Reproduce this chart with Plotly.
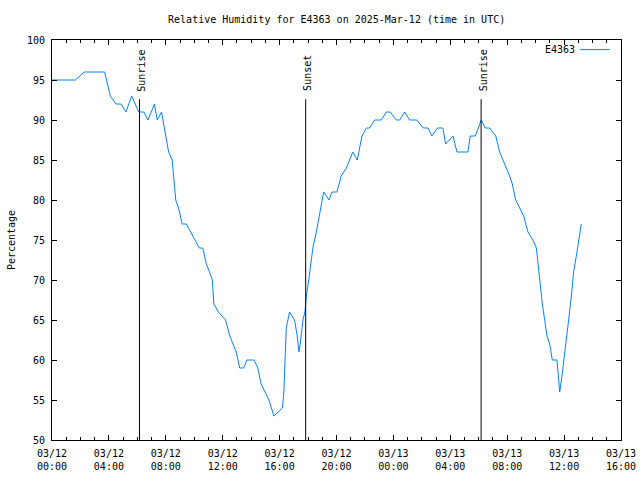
import pandas as pd
import plotly.graph_objects as go

# Hours since 2025-03-12 00:00 UTC and relative humidity (%)
hours = [0.0, 1.65, 2.25, 3.7, 4.1, 4.5, 4.85, 5.2, 5.6, 6.1, 6.45, 6.75, 7.2, 7.4, 7.7,
         7.9, 8.2, 8.45, 8.57, 8.7, 8.9, 9.15, 9.45, 9.75, 10.05, 10.35, 10.6, 10.85,
         11.07, 11.27, 11.38, 11.7, 12.2, 12.5, 12.95, 13.2, 13.47, 13.7, 14.2, 14.47,
         14.7, 15.0, 15.25, 15.6, 16.2, 16.3, 16.38, 16.47, 16.7, 17.05, 17.24, 17.36,
         17.45, 17.64, 17.78, 17.88, 18.05, 18.34, 18.58, 18.77, 19.1, 19.47, 19.68,
         20.03, 20.33, 20.69, 21.15, 21.46, 21.79, 22.1, 22.33, 22.68, 23.15, 23.5,
         23.78, 24.2, 24.44, 24.79, 25.14, 25.65, 26.1, 26.43, 26.7, 27.09, 27.48,
         27.67, 28.19, 28.47, 29.24, 29.4, 29.76, 30.18, 30.46, 30.77, 31.2, 31.47,
         31.7, 31.98, 32.17, 32.36, 32.6, 32.88, 33.16, 33.46, 33.81, 34.05, 34.2,
         34.35, 34.47, 34.63, 34.8, 34.99, 35.17, 35.5, 35.62, 35.69, 35.85, 35.99,
         36.16, 36.32, 36.51, 36.67, 36.86, 37.03, 37.21]
humidity = [95, 95, 96, 96, 93, 92, 92, 91, 93, 91, 91, 90, 92, 90, 91,
            89, 86, 85, 82, 80, 79, 77, 77, 76, 75, 74, 74, 72,
            71, 70, 67, 66, 65, 63, 61, 59, 59, 60, 60, 59,
            57, 56, 55, 53, 54, 56, 60, 64, 66, 65, 63, 61,
            62, 65, 66, 68, 70, 74, 76, 78, 81, 80, 81,
            81, 83, 84, 86, 85, 88, 89, 89, 90, 90, 91,
            91, 90, 90, 91, 90, 90, 89, 89, 88, 89, 89,
            87, 88, 86, 86, 88, 88, 90, 89, 89, 88, 86,
            85, 84, 83, 82, 80, 79, 78, 76, 75, 74, 71,
            69, 67, 65, 63, 62, 60, 60, 58, 56, 58, 60,
            62, 65, 68, 71, 73, 75, 77]

event_times = ["2025-03-12 06:09", "2025-03-12 17:50", "2025-03-13 06:10"]
event_labels = ["Sunrise", "Sunset", "Sunrise"]
event_top = 92.6

series_name = "E4363"
start = pd.Timestamp("2025-03-12 00:00")
times = [start + pd.Timedelta(hours=h) for h in hours]

font = dict(family="DejaVu Sans Mono", size=10, color="black")
blue = "#0a80f5"

fig = go.Figure()
fig.add_trace(go.Scatter(x=times, y=humidity, mode="lines", name=series_name,
                         line=dict(color=blue, width=1), showlegend=False))

for t, lab in zip(event_times, event_labels):
    fig.add_shape(type="line", xref="x", yref="y", x0=t, x1=t, y0=50, y1=event_top,
                  line=dict(color="black", width=1))
    fig.add_annotation(x=t, y=event_top, xref="x", yref="y", text=lab, textangle=-90,
                       showarrow=False, yanchor="bottom", xanchor="center",
                       yshift=6, xshift=2, font=font)

# legend (gnuplot style: text then sample line)
fig.add_annotation(x=0.922, y=0.976, xref="paper", yref="paper", text=series_name,
                   showarrow=False, xanchor="right", yanchor="middle", font=font)
fig.add_shape(type="line", xref="paper", yref="paper", x0=0.928, x1=0.980,
              y0=0.976, y1=0.976, line=dict(color=blue, width=1))

fig.update_layout(
    width=640, height=480,
    margin=dict(l=52, r=19, t=40, b=40, autoexpand=False),
    paper_bgcolor="white", plot_bgcolor="white",
    font=font,
    title=dict(text="Relative Humidity for E4363 on 2025-Mar-12 (time in UTC)",
               x=0.526, xanchor="center", y=0.959, yanchor="middle", font=font),
)
fig.update_xaxes(
    type="date", range=["2025-03-12 00:00", "2025-03-13 16:00"], automargin=False,
    dtick=4 * 3600 * 1000, tick0="2025-03-12 00:00", tickformat="%m/%d<br>%H:%M",
    ticks="inside", ticklen=5, tickcolor="black", mirror="allticks",
    showline=True, linecolor="black", linewidth=1, showgrid=False, zeroline=False,
    minor=dict(dtick=3600 * 1000, ticks="inside", ticklen=3, tickcolor="black"),
    tickfont=font, ticklabelstandoff=4,
)
fig.update_yaxes(
    range=[50, 100], dtick=5, ticks="inside", ticklen=5, tickcolor="black",
    mirror="allticks", showline=True, linecolor="black", linewidth=1, automargin=False,
    showgrid=False, zeroline=False, tickfont=font, ticklabelstandoff=4,
    title=dict(text="Percentage", font=font, standoff=9),
)

fig.write_html("out.html")
